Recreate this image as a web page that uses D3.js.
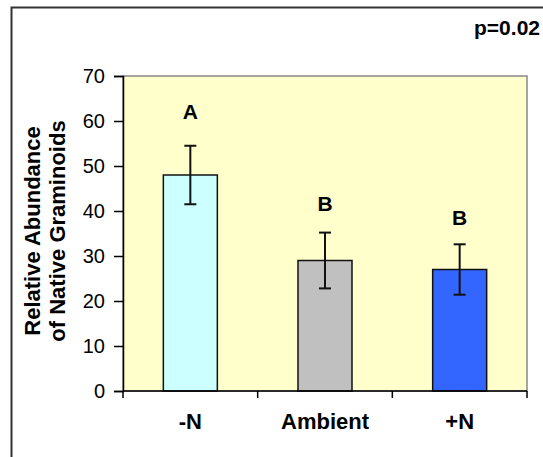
<!DOCTYPE html>
<html><head><meta charset="utf-8">
<script src="https://cdn.jsdelivr.net/npm/d3@7"></script>
<style>
body{margin:0;background:#fff;}
svg{display:block;font-family:"Liberation Sans",Arial,sans-serif;}
</style></head>
<body>
<svg id="chart" width="543" height="457"></svg>
<script>
const categories = ["-N", "Ambient", "+N"];
const values = [48, 29, 27];
const errors = [6.5, 6.2, 5.6];
const letters = ["A", "B", "B"];
const letterLevels = [60.5, 40, 37];
const barColors = ["#CCFFFF", "#C0C0C0", "#3366FF"];
const yTicks = [0, 10, 20, 30, 40, 50, 60, 70];
const pLabel = "p=0.02";
const yTitle = ["Relative Abundance", "of Native Graminoids"];

const svg = d3.select("#chart");
const plot = {left: 123, right: 527, top: 76, bottom: 391};

// outer frame (extends beyond the picture on right and bottom)
svg.append("rect").attr("x", 11.5).attr("y", 7.5).attr("width", 600).attr("height", 600)
  .attr("fill", "none").attr("stroke", "#333").attr("stroke-width", 2);

const x = d3.scaleBand().domain(categories).range([plot.left, plot.right]).paddingInner(0).paddingOuter(0);
const y = d3.scaleLinear().domain([0, 70]).range([plot.bottom, plot.top]);

// plot area
svg.append("rect").attr("x", plot.left).attr("y", plot.top)
  .attr("width", plot.right - plot.left).attr("height", plot.bottom - plot.top)
  .attr("fill", "#FFFFCC").attr("stroke", "#888").attr("stroke-width", 1.5);

const barW = 54;
const g = svg.append("g");
g.selectAll("rect.bar").data(values).enter().append("rect").attr("class", "bar")
  .attr("x", (d, i) => x(categories[i]) + x.bandwidth() / 2 - barW / 2)
  .attr("y", d => y(d))
  .attr("width", barW)
  .attr("height", d => y(0) - y(d))
  .attr("fill", (d, i) => barColors[i])
  .attr("stroke", "#111").attr("stroke-width", 1.5);

// error bars
const capW = 12;
values.forEach((v, i) => {
  const cx = x(categories[i]) + x.bandwidth() / 2;
  const eg = g.append("g").attr("stroke", "#111").attr("stroke-width", 2);
  eg.append("line").attr("x1", cx).attr("x2", cx).attr("y1", y(v + errors[i])).attr("y2", y(v - errors[i]));
  eg.append("line").attr("x1", cx - capW / 2).attr("x2", cx + capW / 2).attr("y1", y(v + errors[i])).attr("y2", y(v + errors[i]));
  eg.append("line").attr("x1", cx - capW / 2).attr("x2", cx + capW / 2).attr("y1", y(v - errors[i])).attr("y2", y(v - errors[i]));
  g.append("text").attr("x", cx).attr("y", y(letterLevels[i]))
    .attr("text-anchor", "middle").attr("font-weight", "bold").attr("font-size", 21)
    .attr("fill", "#000").text(letters[i]);
});

// y axis
const yAxis = svg.append("g").attr("transform", `translate(${plot.left},0)`)
  .call(d3.axisLeft(y).tickValues(yTicks).tickSize(9).tickPadding(9));
yAxis.select(".domain").attr("stroke", "#000").attr("stroke-width", 1.5);
yAxis.selectAll(".tick line").attr("stroke", "#000").attr("stroke-width", 1.5);
yAxis.selectAll(".tick text").attr("font-size", 20).attr("fill", "#000")
  .attr("font-family", "Liberation Sans, Arial, sans-serif");

// x axis with ticks at category boundaries
const xAxis = svg.append("g").attr("transform", `translate(0,${plot.bottom})`);
xAxis.append("line").attr("x1", plot.left).attr("x2", plot.right).attr("y1", 0).attr("y2", 0)
  .attr("stroke", "#000").attr("stroke-width", 1.5);
const bounds = categories.map(c => x(c)).concat([plot.right]);
xAxis.selectAll("line.tk").data(bounds).enter().append("line").attr("class", "tk")
  .attr("x1", d => d).attr("x2", d => d).attr("y1", 0).attr("y2", 7)
  .attr("stroke", "#000").attr("stroke-width", 1.5);
xAxis.selectAll("text").data(categories).enter().append("text")
  .attr("x", d => x(d) + x.bandwidth() / 2).attr("y", 38)
  .attr("text-anchor", "middle").attr("font-weight", "bold").attr("font-size", 22)
  .attr("fill", "#000").text(d => d);

// y title
const yt = svg.append("text").attr("transform", "translate(0,231) rotate(-90)")
  .attr("text-anchor", "middle").attr("font-weight", "bold").attr("font-size", 22).attr("fill", "#000");
yt.append("tspan").attr("x", 0).attr("y", 40).text(yTitle[0]);
yt.append("tspan").attr("x", 0).attr("y", 65).text(yTitle[1]);

// p value
svg.append("text").attr("x", 540).attr("y", 35).attr("text-anchor", "end")
  .attr("font-weight", "bold").attr("font-size", 21).attr("fill", "#000").text(pLabel);
</script>
</body></html>
